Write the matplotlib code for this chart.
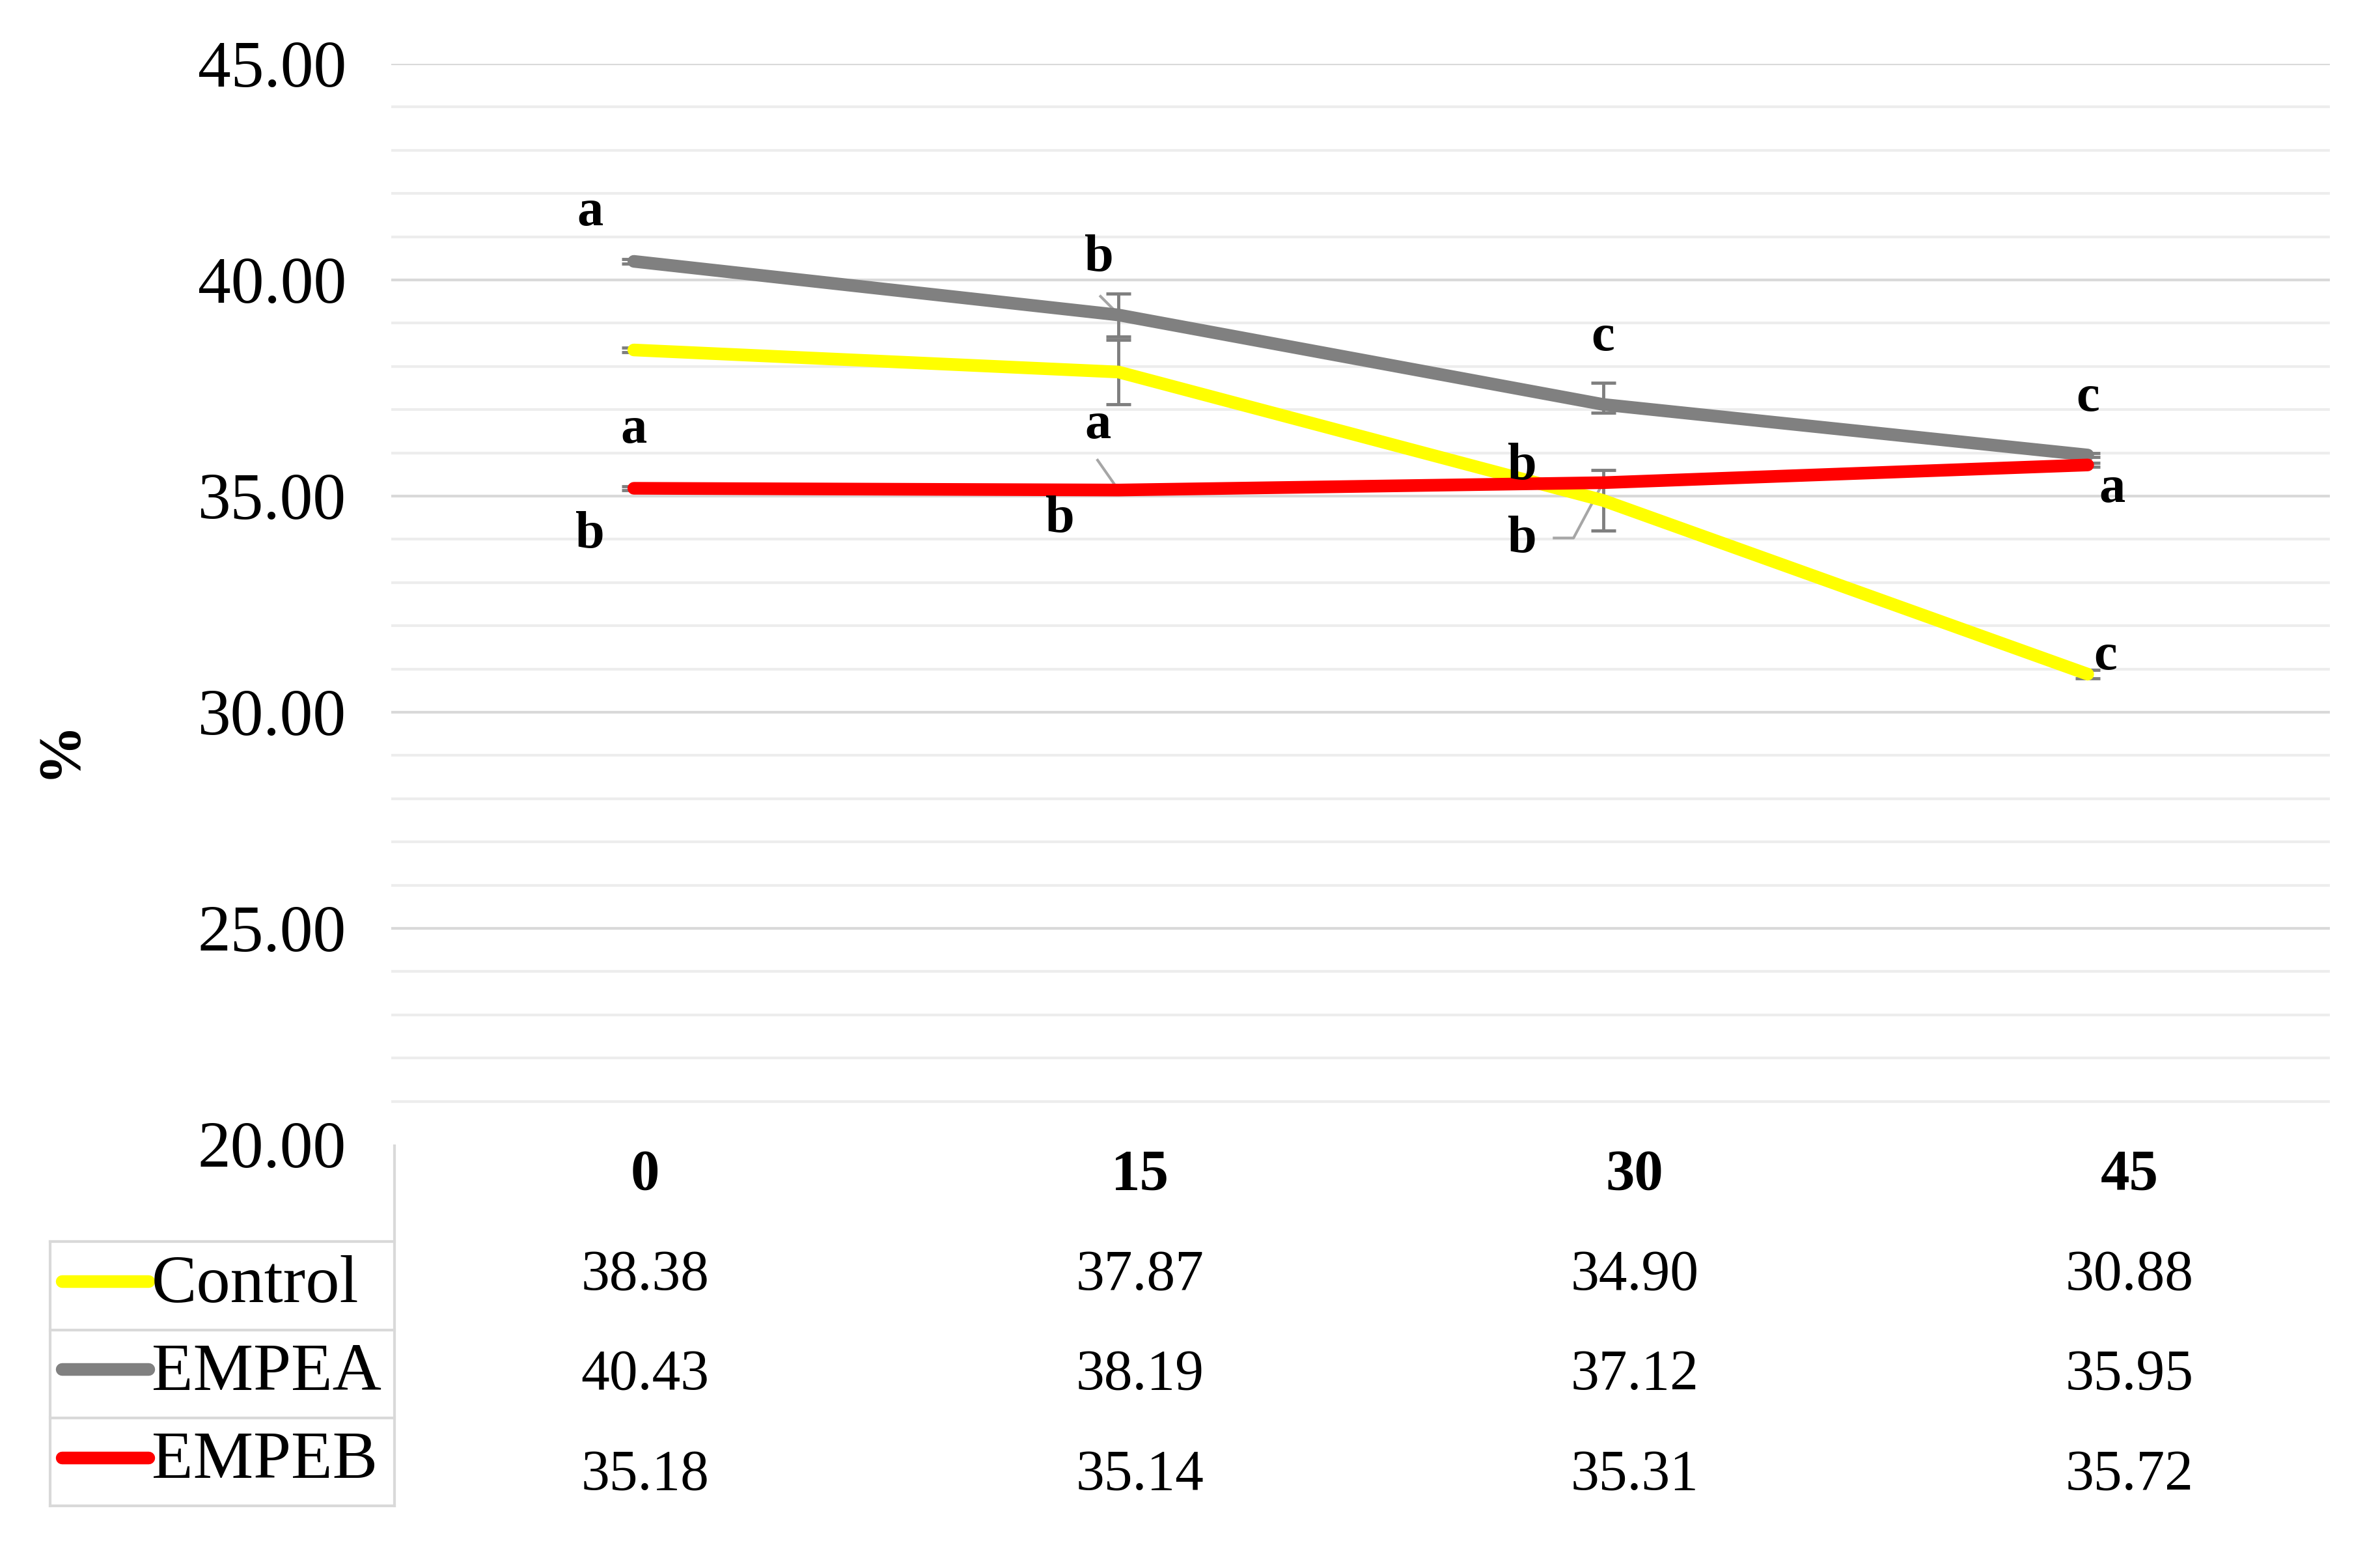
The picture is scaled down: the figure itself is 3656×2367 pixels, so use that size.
import matplotlib
matplotlib.use('Agg')
import matplotlib.pyplot as plt
import numpy as np

plt.rcParams['font.family'] = ['Liberation Serif', 'DejaVu Serif']

days = ['0', '15', '30', '45']
series = ['Control', 'EMPEA', 'EMPEB']
colors = ['#ffff00', '#808080', '#ff0000']

control = [38.38, 37.87, 34.90, 30.88]
empea = [40.43, 39.19, 37.12, 35.95]
empeb = [35.18, 35.14, 35.31, 35.72]

# error bars (lower, upper)
control_err = [[0.05, 0.74, 0.70, 0.10], [0.05, 0.74, 0.70, 0.10]]
empea_err = [[0.05, 0.50, 0.20, 0.05], [0.05, 0.50, 0.50, 0.05]]
empeb_err = [[0.05, 0.05, 0.05, 0.05], [0.05, 0.05, 0.05, 0.05]]

# values printed in the data table under the chart
table_control = ['38.38', '37.87', '34.90', '30.88']
table_empea = ['40.43', '38.19', '37.12', '35.95']
table_empeb = ['35.18', '35.14', '35.31', '35.72']

# significance letters: (text, x index, y value)
letters = [('a', -0.09, 41.56), ('b', 0.96, 40.50), ('c', 2.0, 38.67), ('c', 3.0, 37.27),
           ('a', 0.0, 36.53), ('a', 0.957, 36.63), ('b', 1.833, 35.69), ('a', 3.05, 35.16),
           ('b', -0.09, 34.10), ('b', 0.88, 34.46), ('b', 1.833, 34.0), ('c', 3.037, 31.29)]
# leader lines from labels to points
leaders = [([0.963, 1.003], [39.62, 39.17]),
           ([0.957, 1.0], [35.83, 35.14]),
           ([1.899, 1.939, 2.0], [34.03, 34.03, 35.31])]

fig = plt.figure(figsize=(36.56, 23.67), dpi=100)
ax = fig.add_axes([0.1645, 0.2573, 0.8145, 0.7013])

x = np.arange(len(days))
data = [control, empea, empeb]
errs = [control_err, empea_err, empeb_err]

for i, (vals, err) in enumerate(zip(data, errs)):
    ax.errorbar(x, vals, yerr=err, fmt='none', ecolor='#7f7f7f', elinewidth=3.5,
                capsize=14, capthick=3.5, zorder=2)
for i, vals in enumerate(data):
    ax.plot(x, vals, color=colors[i], lw=14, solid_capstyle='round',
            solid_joinstyle='round', zorder=3 + i)

for xs, ys in leaders:
    ax.plot(xs, ys, color='#a6a6a6', lw=3, zorder=2)
for t, lx, ly in letters:
    ax.text(lx, ly, t, fontsize=58, fontweight='bold', ha='center', va='center', zorder=10)

ax.set_xlim(-0.5, 3.5)
ax.set_ylim(20, 45)
ax.set_yticks([20, 25, 30, 35, 40, 45])
ax.set_yticklabels(['%.2f' % v for v in [20, 25, 30, 35, 40, 45]], fontsize=73)
ax.set_xticks([])
ax.tick_params(axis='y', which='both', length=0, pad=50)
for v in np.arange(21, 45, 1):
    if v % 5 != 0:
        ax.axhline(v, color='#ededed', lw=3, zorder=0)
for v in [25, 30, 35, 40, 45]:
    ax.axhline(v, color='#d9d9d9', lw=3, zorder=0)
for s in ax.spines.values():
    s.set_visible(False)

fig.text(0.025, 0.514, '%', rotation=90, fontsize=66, fontweight='bold', ha='center', va='center')

# data table
tab = fig.add_axes([0.1671, 0.010, 0.8316, 0.2600])
tab.set_xlim(-0.5, 3.5)
tab.set_ylim(3.5, -0.5)
tab.axis('off')
for j, d in enumerate(days):
    tab.text(j, 0, d, fontsize=64, fontweight='bold', ha='center', va='center')
for r, row in enumerate([table_control, table_empea, table_empeb]):
    for j, v in enumerate(row):
        tab.text(j, r + 1, v, fontsize=63, ha='center', va='center')

# legend cells
leg = fig.add_axes([0.02105, 0.0228, 0.1448, 0.1714])
leg.set_xlim(0, 1)
leg.set_ylim(3, 0)
leg.axis('off')
for yy in [0, 1, 2, 3]:
    leg.plot([0, 1], [yy, yy], color='#d9d9d9', lw=3, clip_on=False)
leg.plot([0, 0], [0, 3], color='#d9d9d9', lw=3, clip_on=False)
leg.plot([1, 1], [-1.086, 3], color='#d9d9d9', lw=3, clip_on=False)
for r, name in enumerate(series):
    leg.plot([0.035, 0.285], [r + 0.45, r + 0.45], color=colors[r], lw=14,
             solid_capstyle='round', clip_on=False)
    leg.text(0.295, r + 0.5, name, fontsize=75, ha='left', va='center')

fig.savefig('out.png', dpi=100, facecolor='white')
